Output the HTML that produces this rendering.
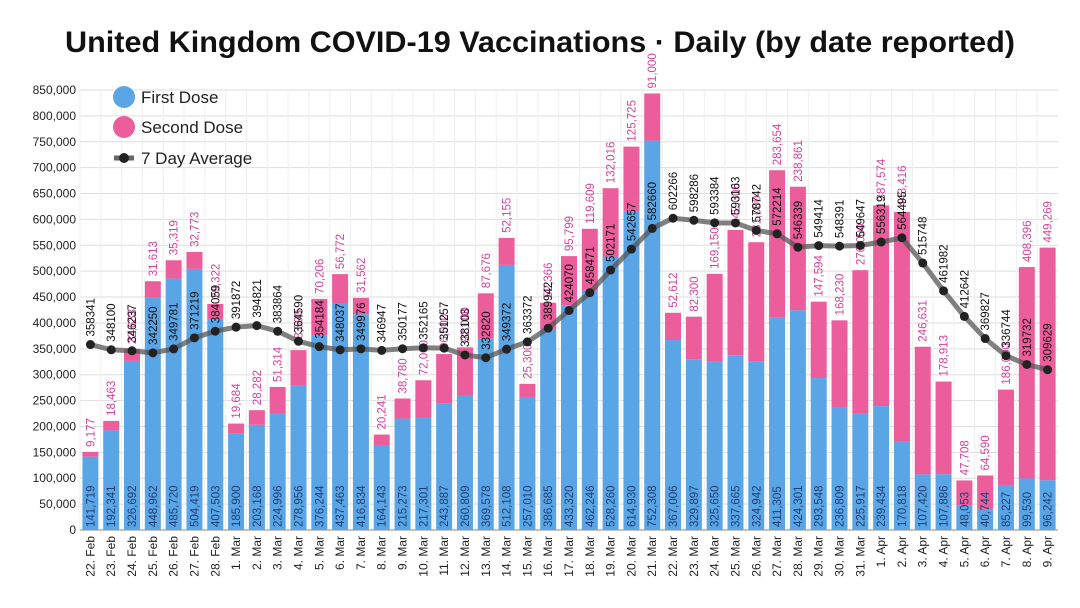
<!DOCTYPE html>
<html><head><meta charset="utf-8"><style>
body{margin:0;background:#fff;font-family:"Liberation Sans",sans-serif}
svg{display:block}
</style></head><body>
<svg id="c" width="1080" height="608">
<text x="540" y="52" text-anchor="middle" font-size="30" font-weight="bold" fill="#111" textLength="950" lengthAdjust="spacingAndGlyphs">United Kingdom COVID-19 Vaccinations · Daily (by date reported)</text>
</svg>
<script>
const dates=["22. Feb","23. Feb","24. Feb","25. Feb","26. Feb","27. Feb","28. Feb","1. Mar","2. Mar","3. Mar","4. Mar","5. Mar","6. Mar","7. Mar","8. Mar","9. Mar","10. Mar","11. Mar","12. Mar","13. Mar","14. Mar","15. Mar","16. Mar","17. Mar","18. Mar","19. Mar","20. Mar","21. Mar","22. Mar","23. Mar","24. Mar","25. Mar","26. Mar","27. Mar","28. Mar","29. Mar","30. Mar","31. Mar","1. Apr","2. Apr","3. Apr","4. Apr","5. Apr","6. Apr","7. Apr","8. Apr","9. Apr"];
const firstDose=[141719,192341,326692,448962,485720,504419,407503,185900,203168,224996,278956,376244,437463,416834,164143,215273,217301,243887,260809,369578,512108,257010,386685,433320,462246,528260,614930,752308,367006,329897,325650,337665,324942,411305,424301,293548,236809,225917,239434,170818,107420,107886,48053,40744,85227,99530,96242];
const secondDose=[9177,18463,22633,31613,35319,32773,29322,19684,28282,51314,68590,70206,56772,31562,20241,38780,72000,96000,92000,87676,52155,25300,52366,95799,119609,132016,125725,91000,52612,82300,169150,242000,231000,283654,238861,147594,168230,276000,387574,443416,246631,178913,47708,64590,186000,408396,449269];
const avg7=[358341,348100,346237,342250,349781,371219,384059,391872,394821,383864,364590,354184,348037,349976,346947,350177,352165,351257,338103,332820,349372,363372,389942,424070,458471,502171,542657,582660,602266,598286,593384,593163,578742,572214,546339,549414,548391,549647,556319,564495,515748,461982,412642,369827,336744,319732,309629];
const yTicks=[0,50000,100000,150000,200000,250000,300000,350000,400000,450000,500000,550000,600000,650000,700000,750000,800000,850000];
const NS="http://www.w3.org/2000/svg",svg=document.getElementById('c');
const X0=80,X1=1058,Y0=530,Y1=90,YMAX=850000;
const bw=(X1-X0)/dates.length;
const y=v=>Y0-(v/YMAX)*(Y0-Y1);
const x=i=>X0+bw*(i+0.5);
const fmt=v=>v.toString().replace(/\B(?=(\d{3})+(?!\d))/g,",");
function el(t,a,p){const e=document.createElementNS(NS,t);for(const k in a)e.setAttribute(k,a[k]);(p||svg).appendChild(e);return e;}
const g=el('g',{});


yTicks.forEach(t=>{
 el('line',{x1:X0,x2:X1,y1:y(t),y2:y(t),stroke:'#ddd','stroke-width':1},g);
 const tl=el('text',{x:76,y:y(t)+4,'text-anchor':'end','font-size':12,fill:'#222'});
 tl.textContent=fmt(t);
 
 
});
dates.forEach((d,i)=>{el('line',{x1:X0+bw*i,x2:X0+bw*i,y1:Y1,y2:Y0,stroke:'#eee','stroke-width':1},g);});
el('line',{x1:X0,x2:X1,y1:Y0,y2:Y0,stroke:'#888'});
dates.forEach((d,i)=>{
 const cx=x(i),w=16;
 const b1=el('rect',{x:cx-w/2,y:y(firstDose[i]),width:w,height:Y0-y(firstDose[i]),fill:'#5aa5e6'});
 
 
 const tot=firstDose[i]+secondDose[i];
 const b2=el('rect',{x:cx-w/2,y:y(tot),width:w,height:y(firstDose[i])-y(tot),fill:'#ec5d9c'});
 
 
 const l1=el('text',{transform:`translate(${cx+4},${Y0-3}) rotate(-90)`,'font-size':11.5,fill:'#1f3f72'});
 l1.textContent=fmt(firstDose[i]);
 
 
 const l2=el('text',{transform:`translate(${cx+4},${y(tot)-5}) rotate(-90)`,'font-size':11.5,fill:'#d4439a'});
 l2.textContent=fmt(secondDose[i]);
 
 
 const xl=el('text',{transform:`translate(${cx+4},${Y0+6}) rotate(-90)`,'font-size':12,fill:'#222','text-anchor':'end'});
 xl.textContent=d;
 
 
});
let p='';avg7.forEach((v,i)=>{p+=(i?'L':'M')+x(i)+','+y(v);});
const line=el('path',{d:p,fill:'none',stroke:'#555','stroke-opacity':0.75,'stroke-width':5,'stroke-linejoin':'round'});


avg7.forEach((v,i)=>{
 const c=el('circle',{cx:x(i),cy:y(v),r:4.5,fill:'#222'});
 
 
 const t=el('text',{transform:`translate(${x(i)+4},${y(v)-8}) rotate(-90)`,'font-size':11.5,fill:'#111'});
 t.textContent=v;
 
 
});
const lg=el('g',{});


[['First Dose','#5aa5e6',97],['Second Dose','#ec5d9c',127]].forEach(([n,c,yy])=>{
 el('circle',{cx:124,cy:yy,r:11,fill:c},lg);
 const t=el('text',{x:141,y:yy+6,'font-size':17,fill:'#222'},lg);t.textContent=n;
 
 
});
el('line',{x1:114,x2:134,y1:158,y2:158,stroke:'#666','stroke-width':5},lg);
el('circle',{cx:124,cy:158,r:5,fill:'#222'},lg);
const t3=el('text',{x:141,y:164,'font-size':17,fill:'#222'},lg);t3.textContent='7 Day Average';


</script>
</body></html>
